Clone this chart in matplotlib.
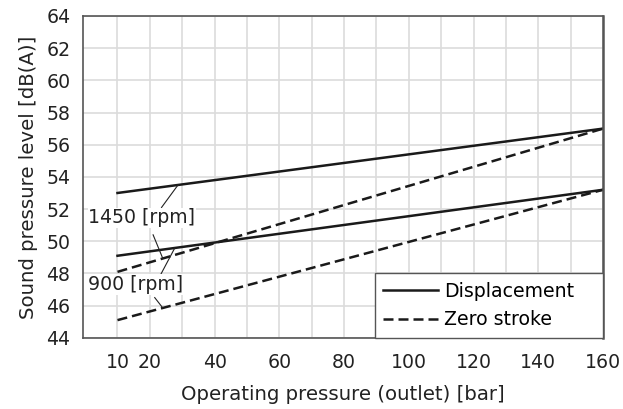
import matplotlib
matplotlib.use('Agg')
import matplotlib.pyplot as plt

# operating pressure [bar] at line ends
pressure = [10, 160]

# sound pressure level [dB(A)]
disp_1450 = [53.0, 57.0]
disp_900 = [49.1, 53.2]
zero_1450 = [48.1, 57.0]
zero_900 = [45.1, 53.2]

x_ticks = [10, 20, 40, 60, 80, 100, 120, 140, 160]
x_grid = list(range(10, 160, 10))
y_ticks = list(range(44, 65, 2))

plt.rcParams['font.family'] = ['DejaVu Sans']
plt.rcParams['font.size'] = 13.6

fig = plt.figure(figsize=(6.23, 4.09), dpi=100)
ax = fig.add_axes([0.133, 0.174, 0.835, 0.787])

ln_kw = dict(color='#1a1a1a', lw=1.8)
ax.plot(pressure, disp_1450, '-', label='Displacement', **ln_kw)
ax.plot(pressure, disp_900, '-', **ln_kw)
ax.plot(pressure, zero_1450, '--', dashes=(4, 2), label='Zero stroke', **ln_kw)
ax.plot(pressure, zero_900, '--', dashes=(4, 2), **ln_kw)

ax.set_xlim(-0.7, 160)
ax.set_ylim(44, 64)
ax.set_xticks(x_ticks)
ax.set_xticks(x_grid, minor=True)
ax.set_yticks(y_ticks)
ax.tick_params(which='both', length=0)
ax.tick_params(axis='x', pad=11, colors='#222222')
ax.tick_params(axis='y', pad=9, colors='#222222')
ax.grid(True, which='both', color='#dcdcdc', lw=1.2)
ax.set_axisbelow(True)
for name, sp in ax.spines.items():
    sp.set_color('#555555')
    sp.set_linewidth(1.2)
ax.spines['right'].set_linewidth(1.8)

ax.set_xlabel('Operating pressure (outlet) [bar]', labelpad=9, color='#222222',
              fontsize=14.2)
ax.set_ylabel('Sound pressure level [dB(A)]', labelpad=6, color='#222222',
              fontsize=14.2)


def interp(xs, ys, x):
    return ys[0] + (ys[1] - ys[0]) * (x - xs[0]) / (xs[1] - xs[0])


# speed labels with leader lines
ann = [
    ('1450 [rpm]', (1.0, 51.45), [(28.7, disp_1450, (23.6, 52.1)),
                                  (24.0, zero_1450, (21.0, 50.4))]),
    ('900 [rpm]', (1.0, 47.3), [(27.7, disp_900, (23.0, 47.8)),
                                (24.0, zero_900, (21.5, 46.5))]),
]
for text, pos, leaders in ann:
    ax.text(pos[0], pos[1], text, ha='left', va='center', color='#222222',
            bbox=dict(facecolor='white', edgecolor='none', pad=0.5))
    for xe, ys, start in leaders:
        ax.plot([start[0], xe], [start[1], interp(pressure, ys, xe)],
                color='#222222', lw=0.8)

leg = ax.legend(loc='lower left', bbox_to_anchor=(0.5615, 0.0, 0.4385, 0.2),
                mode='expand', borderaxespad=0, handlelength=2.9,
                handletextpad=0.3, fancybox=False, framealpha=1,
                edgecolor='#555555', borderpad=0.45, labelspacing=0.5)
leg.get_frame().set_linewidth(1.0)

fig.savefig('out.png', dpi=100)
